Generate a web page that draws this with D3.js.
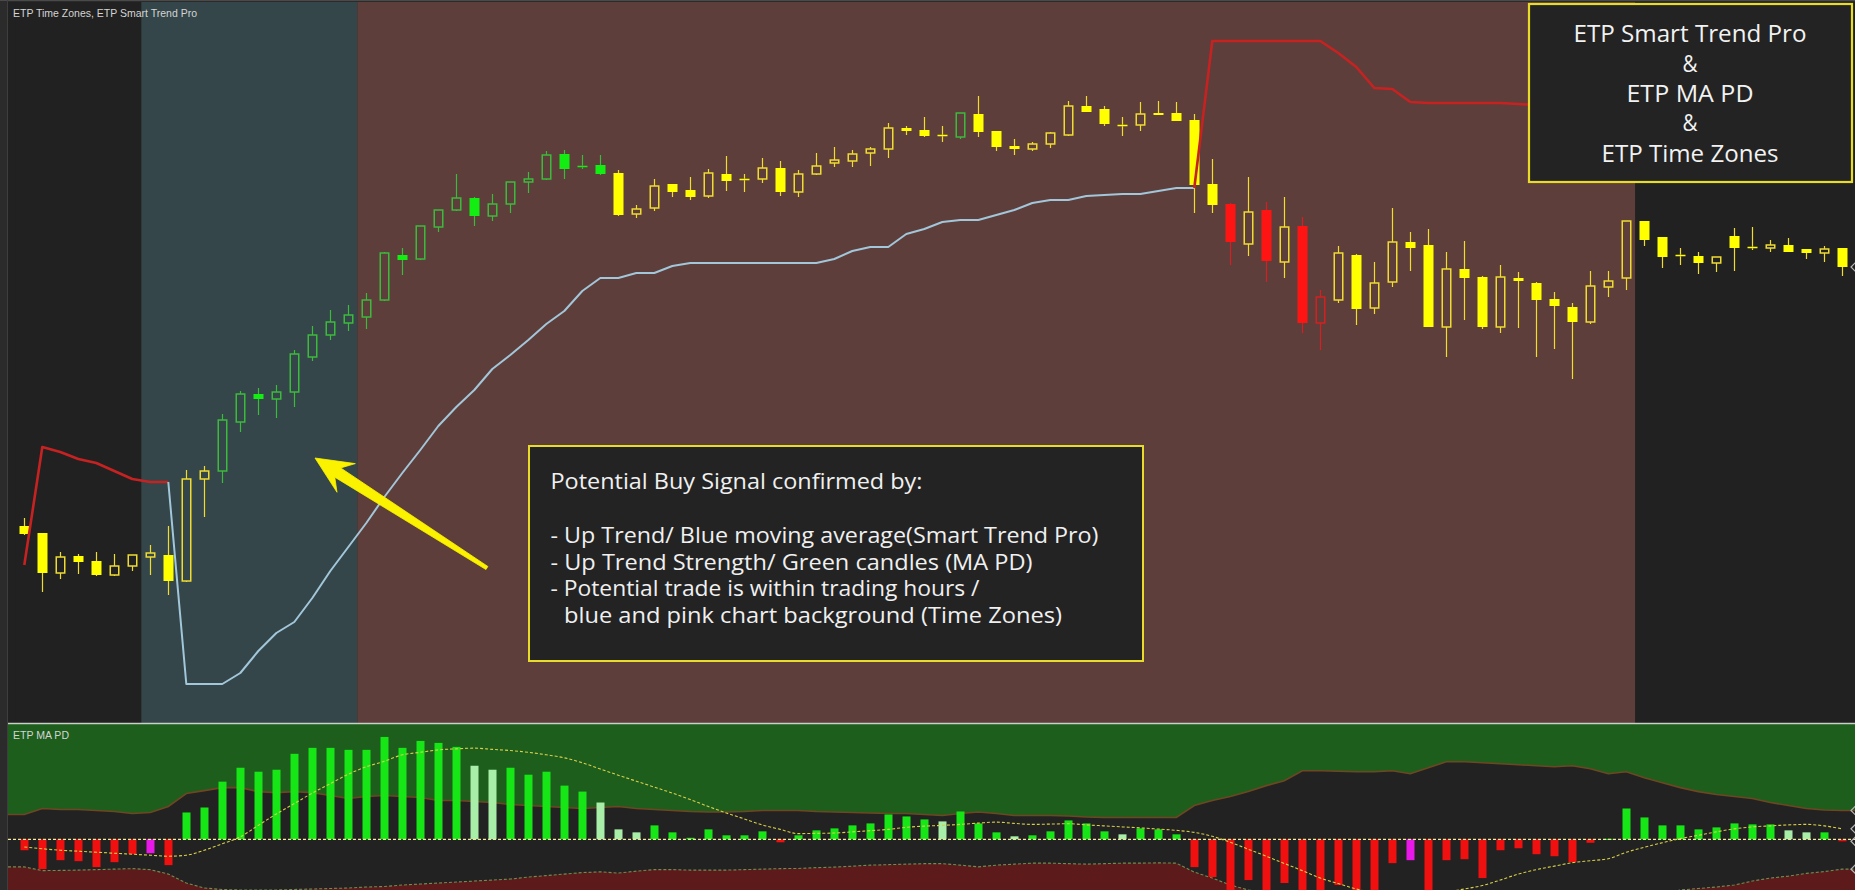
<!DOCTYPE html>
<html>
<head>
<meta charset="utf-8">
<script src="https://cdn.jsdelivr.net/npm/d3@7"></script>
<style>
html, body { margin: 0; padding: 0; background: #2b2b2b; overflow: hidden; }
svg { display: block; }
</style>
</head>
<body>
<script>
// ---- price bars (one per session bar) ----
const opens = [
  103.74, 103.67, 103.27, 103.44, 103.39, 103.25, 103.34, 103.43, 103.45, 103.19,
  104.21, 104.29, 104.78, 105.06, 105.01, 105.08, 105.43, 105.65, 105.77, 105.83,
  106.00, 106.45, 106.41, 106.73, 106.90, 107.02, 106.84, 106.96, 107.18, 107.21,
  107.46, 107.34, 107.35, 107.27, 106.86, 106.92, 107.16, 107.10, 107.04, 107.26,
  107.21, 107.21, 107.32, 107.08, 107.26, 107.37, 107.39, 107.47, 107.51, 107.72,
  107.70, 107.65, 107.63, 107.86, 107.69, 107.54, 107.51, 107.56, 107.65, 107.94,
  107.91, 107.75, 107.75, 107.87, 107.87, 107.80, 107.16, 106.96, 106.56, 106.90,
  106.38, 106.74, 105.77, 106.00, 106.45, 105.92, 106.18, 106.58, 106.55, 105.73,
  106.31, 106.23, 105.73, 106.22, 106.17, 106.01, 105.93, 105.78, 106.13, 106.22,
  106.79, 106.63, 106.45, 106.44, 106.37, 106.64, 106.53, 106.52, 106.55, 106.51,
  106.47, 106.52
];
const highs = [
  103.82, 103.67, 103.48, 103.46, 103.48, 103.46, 103.45, 103.55, 103.74, 104.30,
  104.34, 104.86, 105.09, 105.12, 105.15, 105.50, 105.74, 105.90, 105.95, 106.07,
  106.48, 106.52, 106.74, 106.90, 107.26, 107.03, 107.06, 107.18, 107.28, 107.49,
  107.50, 107.45, 107.45, 107.30, 106.95, 107.21, 107.16, 107.23, 107.31, 107.44,
  107.26, 107.42, 107.39, 107.30, 107.47, 107.53, 107.50, 107.53, 107.77, 107.74,
  107.83, 107.74, 107.87, 108.04, 107.69, 107.61, 107.58, 107.68, 107.99, 108.04,
  107.94, 107.83, 107.98, 107.99, 107.98, 107.86, 107.41, 106.97, 107.23, 106.98,
  107.03, 106.83, 106.10, 106.54, 106.46, 106.38, 106.92, 106.68, 106.71, 106.48,
  106.59, 106.24, 106.35, 106.28, 106.18, 106.08, 105.97, 106.29, 106.29, 106.79,
  106.79, 106.63, 106.52, 106.48, 106.43, 106.72, 106.73, 106.60, 106.62, 106.51,
  106.54, 106.52
];
const lows = [
  103.65, 103.08, 103.21, 103.26, 103.24, 103.24, 103.29, 103.25, 103.05, 103.18,
  103.83, 104.17, 104.68, 104.85, 104.82, 104.93, 105.39, 105.60, 105.69, 105.71,
  105.99, 106.25, 106.40, 106.68, 106.89, 106.74, 106.79, 106.87, 107.07, 107.20,
  107.21, 107.31, 107.25, 106.84, 106.82, 106.89, 107.03, 107.00, 107.02, 107.09,
  107.08, 107.17, 107.04, 107.03, 107.25, 107.33, 107.33, 107.34, 107.42, 107.65,
  107.63, 107.58, 107.61, 107.63, 107.49, 107.45, 107.49, 107.52, 107.64, 107.88,
  107.74, 107.64, 107.69, 107.85, 107.79, 106.87, 106.87, 106.35, 106.44, 106.18,
  106.22, 105.67, 105.50, 105.97, 105.75, 105.86, 106.13, 106.29, 105.73, 105.43,
  105.80, 105.71, 105.67, 105.72, 105.43, 105.51, 105.21, 105.76, 106.03, 106.10,
  106.54, 106.32, 106.35, 106.26, 106.28, 106.29, 106.50, 106.48, 106.48, 106.41,
  106.38, 106.24
];
const closes = [
  103.66, 103.27, 103.43, 103.38, 103.25, 103.34, 103.45, 103.47, 103.19, 104.21,
  104.29, 104.80, 105.06, 105.01, 105.08, 105.46, 105.65, 105.78, 105.85, 106.00,
  106.47, 106.40, 106.74, 106.90, 107.02, 106.84, 106.96, 107.18, 107.21, 107.45,
  107.31, 107.33, 107.26, 106.85, 106.91, 107.14, 107.08, 107.03, 107.27, 107.19,
  107.20, 107.32, 107.08, 107.26, 107.34, 107.40, 107.46, 107.51, 107.72, 107.69,
  107.64, 107.64, 107.87, 107.68, 107.53, 107.51, 107.56, 107.67, 107.94, 107.88,
  107.76, 107.74, 107.86, 107.85, 107.79, 107.15, 106.95, 106.58, 106.88, 106.39,
  106.73, 105.77, 106.03, 106.47, 105.91, 106.17, 106.58, 106.52, 105.73, 106.31,
  106.22, 105.73, 106.23, 106.19, 106.00, 105.94, 105.78, 106.14, 106.19, 106.79,
  106.60, 106.43, 106.44, 106.37, 106.43, 106.52, 106.52, 106.55, 106.48, 106.47,
  106.51, 106.33
];
// MA PD bar state: y = neutral, g = up strength, r = down strength
const candleState = (
  "yyyyyyyyyy" + "yggggggggg" + "gggggggggg" + "gggyyyyyyy" + "yyyyyyyyyy" +
  "yygyyyyyyy" + "yyyyyyyryr" + "yrryyyyyyy" + "yyyyyyyyyy" + "yyyyyyyyyy" + "yy"
).split("");

// ---- Smart Trend Pro line ----
const trendLine = [
  103.35, 104.53, 104.48, 104.41, 104.37, 104.29, 104.21, 104.18, 104.18, 102.16,
  102.16, 102.16, 102.27, 102.49, 102.67, 102.78, 103.02, 103.29, 103.53, 103.77,
  104.03, 104.27, 104.50, 104.74, 104.93, 105.10, 105.31, 105.45, 105.60, 105.76,
  105.89, 106.09, 106.22, 106.22, 106.27, 106.27, 106.34, 106.37, 106.37, 106.37,
  106.37, 106.37, 106.37, 106.37, 106.37, 106.41, 106.49, 106.53, 106.53, 106.66,
  106.71, 106.78, 106.80, 106.80, 106.85, 106.90, 106.97, 107.00, 107.00, 107.04,
  107.05, 107.06, 107.06, 107.09, 107.12, 107.12, 108.59, 108.59, 108.59, 108.59,
  108.59, 108.59, 108.59, 108.47, 108.33, 108.12, 108.11, 107.98, 107.97, 107.97,
  107.97, 107.97, 107.97, 107.96, 107.95, 107.95, 107.95, 107.95, 107.95, 107.95,
  107.95, 107.95, 107.95, 107.95, 107.95, 107.95, 107.95, 107.95, 107.95, 107.95,
  107.95, 107.95
];
// u = up trend (blue), d = down trend (red)
const trendDir = (
  "dddddddddu" + "uuuuuuuuuu" + "uuuuuuuuuu" + "uuuuuuuuuu" + "uuuuuuuuuu" +
  "uuuuuuuuuu" + "uuuuuudddd" + "dddddddddd" + "dddddddddd" + "dddddddddd" + "dd"
).split("");

// ---- Time zones (bar index ranges) ----
const zoneFirst = [0, 7, 19, 90];
const zoneLast  = [6, 18, 89, 101];
const zoneName  = ["closed", "session1", "session2", "closed"];

// ---- ETP MA PD oscillator ----
const maPd = [
  -11, -30, -21, -22, -28, -23, -15, -14, -26, 27,
  32, 58, 72, 68, 70, 86, 92, 92, 90, 90,
  103, 92, 99, 97, 93, 74, 70, 72, 65, 68,
  54, 48, 37, 10, 7, 14, 7, 1.5, 10, 4,
  4, 8, -3, 4, 9, 11, 14, 16, 25, 23,
  20, 18, 28, 16, 7, 3, 4, 8, 19, 16,
  8, 5, 11, 10, 5, -28, -38, -58, -41, -58,
  -44, -58, -58, -46, -58, -58, -24, -21, -58, -21,
  -20, -39, -11, -9, -15, -17, -23, -3.5, 0.5, 31,
  22, 14, 14, 10, 12, 16, 15, 15, 9, 7,
  7, -2
];
// r = down, m = down extreme, g = up, l = up weakening
const maPdState = (
  "rrrrrrrmrg" + "gggggggggg" + "gggggllggg" + "gglllggggg" + "ggrggggggg" +
  "glggglgggg" + "glgggrrrrr" + "rrrrrrrmrr" + "rrrrrrrrgg" + "ggggggggll" + "gr"
).split("");
const maPdUpper = [
  25, 31, 30, 30, 29, 28, 26, 27, 33, 46,
  49, 52, 52, 48, 47, 48, 47, 44, 41, 43,
  44, 43, 42, 39, 39, 38, 37, 35, 34, 33,
  32, 31, 32, 33, 31, 30, 29, 28, 27.5, 27.5,
  28, 29, 29, 29, 28, 27.5, 27, 26.5, 26, 26,
  25, 24, 26, 27.5, 26, 24, 24, 24, 23.5, 22.5,
  22, 22, 22, 22, 22, 34, 39, 43, 48, 54,
  59, 69, 69, 68.5, 68, 68, 69, 66, 72, 78,
  78, 77, 76, 75, 74, 73, 74, 71, 66, 68,
  62, 57, 52, 48, 45, 43, 41, 37, 34, 31,
  29.5, 29
];
const maPdLower = [
  -27.7, -31.5, -31.3, -31, -30.5, -30, -29.5, -30.5, -35, -44,
  -49, -50.5, -51, -51, -51, -50.5, -50, -49.5, -49, -48,
  -47.5, -46, -45, -44, -43, -42, -41, -40, -38, -36.5,
  -35, -33.5, -32.7, -34, -32, -30.5, -30.5, -31, -31, -31,
  -30.5, -30, -29.5, -29.3, -28.5, -28, -27, -26, -25.5, -25,
  -24.5, -24.5, -26, -27.7, -26, -25, -24, -24, -24.5, -25,
  -24.5, -24, -24, -23.7, -24, -33, -39, -46, -51, -53,
  -55, -57, -58, -58, -58, -58, -58, -58, -58, -58,
  -58, -58, -58, -58, -58, -58, -58, -58, -58, -57,
  -56, -55, -51, -49.5, -48, -46, -42, -39, -37, -34.3,
  -32.5, -30
];
const maPdSignal = [
  -7.7, -9.5, -11, -12, -13, -14, -15, -16, -17, -16,
  -11, -4.5, 2.5, 14, 25.5, 36, 46.5, 56, 65.5, 73,
  78.5, 85, 87.5, 90, 91, 91.7, 90.5, 89.3, 87.5, 85,
  82, 77, 70.7, 64.5, 58.5, 52.5, 46.5, 40, 33, 26.5,
  20.5, 14.5, 10, 5.7, 6, 6.3, 7.5, 8.7, 10, 12,
  13.3, 14, 15, 16.3, 17.3, 16, 15, 15.3, 15.7, 14.5,
  13.5, 12.5, 11.5, 10.3, 9, 7, 3, -3, -10, -17,
  -24.3, -31.5, -39, -44.5, -50, -54, -56, -56, -55, -53,
  -50, -46.5, -41, -35, -30.5, -27, -23.5, -21.5, -19.5, -13,
  -8, -3.5, 0.7, 4, 7.5, 10.5, 12.5, 13.5, 14.5, 15,
  13.5, 10.5
];

// ---- annotations ----
const arrowTip  = { bar: 16.15, price: 104.42 };
const arrowTail = { bar: 25.7, price: 103.32 };
const titleLines = ["ETP Smart Trend Pro", "&", "ETP MA PD", "&", "ETP Time Zones"];
const noteLines = [
  "Potential Buy Signal confirmed by:",
  "",
  "- Up Trend/ Blue moving average(Smart Trend Pro)",
  "- Up Trend Strength/ Green candles (MA PD)",
  "- Potential trade is within trading hours /",
  "  blue and pink chart background (Time Zones)"
];

// ================= drawing =================
const W = 1855, H = 890;
const plotL = 8, plotR = W, mainTop = 2, mainBot = 723, oscTop = 724, oscBot = H;

const svg = d3.select("body").append("svg")
  .attr("width", W).attr("height", H)
  .style("font-family", "'Liberation Sans', Arial, sans-serif");

const x = d3.scaleLinear().domain([-0.906, 101.706]).range([plotL, plotR]);
const y = d3.scaleLinear().domain([100, 109]).range([900, 0]);
const yo = d3.scaleLinear().domain([-51, 116]).range([oscBot, oscTop]);

const defs = svg.append("defs");
defs.append("clipPath").attr("id", "clipMain").append("rect")
  .attr("x", plotL).attr("y", mainTop).attr("width", plotR - plotL).attr("height", mainBot - mainTop);
defs.append("clipPath").attr("id", "clipOsc").append("rect")
  .attr("x", plotL).attr("y", oscTop).attr("width", plotR - plotL).attr("height", oscBot - oscTop);

// frame
svg.append("rect").attr("width", W).attr("height", H).attr("fill", "#2b2b2b");
svg.append("line").attr("x1", 0).attr("x2", W).attr("y1", 0.5).attr("y2", 0.5).attr("stroke", "#4a4a4a");
svg.append("line").attr("x1", 7.5).attr("x2", 7.5).attr("y1", 0).attr("y2", H).attr("stroke", "#3e3e3e");

// ---------- main panel ----------
const main = svg.append("g").attr("clip-path", "url(#clipMain)");
main.append("rect").attr("x", plotL).attr("y", mainTop)
  .attr("width", plotR - plotL).attr("height", mainBot - mainTop).attr("fill", "#212121");

const zoneFill = { closed: "#212121", session1: "#344649", session2: "#5e3e3a" };
main.selectAll("rect.zone")
  .data(zoneName.map((n, k) => ({ n, a: zoneFirst[k], b: zoneLast[k] })))
  .join("rect").attr("class", "zone")
  .attr("x", d => Math.max(plotL, x(d.a - 0.5)))
  .attr("width", d => Math.min(plotR, x(d.b + 0.5)) - Math.max(plotL, x(d.a - 0.5)))
  .attr("y", mainTop).attr("height", mainBot - mainTop)
  .attr("fill", d => zoneFill[d.n]);

// candles
const fillCol = { y: "#ffff00", g: "#12ee12", r: "#ff1414" };
const lineCol = { y: "#f0dc30", g: "#3cba3c", r: "#d42020" };
const candles = opens.map((o, i) => ({ i, o, h: highs[i], l: lows[i], c: closes[i], s: candleState[i] }));

const cg = main.selectAll("g.candle").data(candles).join("g").attr("class", "candle");
cg.each(function (d) {
  const g = d3.select(this);
  const cx = Math.round(x(d.i)) + 0.5;
  let top = y(Math.max(d.o, d.c)), bot = y(Math.min(d.o, d.c));
  if (bot - top < 1.5) { const m = (top + bot) / 2; top = m - 0.75; bot = m + 0.75; }
  const filled = d.c < d.o;
  const col = filled ? fillCol[d.s] : lineCol[d.s];
  g.append("line").attr("x1", cx).attr("x2", cx).attr("y1", y(d.h)).attr("y2", top)
    .attr("stroke", lineCol[d.s]).attr("stroke-width", 1.2);
  g.append("line").attr("x1", cx).attr("x2", cx).attr("y1", bot).attr("y2", y(d.l))
    .attr("stroke", lineCol[d.s]).attr("stroke-width", 1.2);
  if (filled) {
    g.append("rect").attr("x", cx - 5).attr("y", top).attr("width", 10).attr("height", bot - top)
      .attr("fill", col);
  } else {
    g.append("rect").attr("x", cx - 4.25).attr("y", top).attr("width", 8.5).attr("height", Math.max(bot - top, 1))
      .attr("fill", "none").attr("stroke", col).attr("stroke-width", 1.5);
  }
});

// Smart Trend Pro line, split into runs by direction
const runs = [];
for (let i = 1; i < trendLine.length; i++) {
  const last = runs[runs.length - 1];
  if (last && last.dir === trendDir[i]) last.pts.push(i);
  else runs.push({ dir: trendDir[i], pts: [i - 1, i] });
}
const trendPath = d3.line().x(i => x(i)).y(i => y(trendLine[i]));
main.selectAll("path.trend").data(runs).join("path").attr("class", "trend")
  .attr("d", d => trendPath(d.pts))
  .attr("fill", "none")
  .attr("stroke", d => d.dir === "u" ? "#a2c6da" : "#c62222")
  .attr("stroke-width", d => d.dir === "u" ? 2 : 2.6)
  .attr("stroke-linejoin", "round");

// last-value markers on the right edge
const marker = (g, yy) => g.append("polyline")
  .attr("points", `${W + 1},${yy - 5} ${W - 4},${yy} ${W + 1},${yy + 5}`)
  .attr("fill", "none").attr("stroke", "#b8b8b8").attr("stroke-width", 1.2);
marker(svg, y(closes[closes.length - 1]));

// arrow
{
  const t0 = [x(arrowTip.bar), y(arrowTip.price)];
  const t1 = [x(arrowTail.bar), y(arrowTail.price)];
  const dx = t1[0] - t0[0], dy = t1[1] - t0[1], len = Math.hypot(dx, dy);
  const ux = dx / len, uy = dy / len, nx = -uy, ny = ux;
  const P = (a, b) => [t0[0] + ux * a + nx * b, t0[1] + uy * a + ny * b];
  const pts = [P(0, 0), P(37, 17), P(27, 5.5), P(len, 1.8), P(len, -1.8), P(27, -5.5), P(37, -17)];
  main.append("polygon").attr("points", pts.map(p => p.join(",")).join(" "))
    .attr("fill", "#fbf200").attr("stroke", "#fbf200").attr("stroke-width", 0.8)
    .attr("stroke-linejoin", "round");
}

const boxFont = "'Open Sans', Lato, 'Noto Sans', sans-serif";

// note box
{
  const g = svg.append("g");
  g.append("rect").attr("x", 529).attr("y", 446).attr("width", 614).attr("height", 215)
    .attr("fill", "#232323").attr("stroke", "#e8dc28").attr("stroke-width", 2);
  const base = [489, 516, 543, 569.5, 596, 622.5];
  const widths = [372, 0, 548, 482, 429, 498];
  noteLines.forEach((t, k) => {
    if (!t) return;
    const indent = t.startsWith("  ");
    g.append("text").attr("x", indent ? 564 : 550.5).attr("y", base[k])
      .attr("textLength", widths[k]).attr("lengthAdjust", "spacingAndGlyphs")
      .style("font-family", boxFont).style("font-size", "22.5px").style("font-weight", 400)
      .attr("fill", "#f0f0f0").text(t.trim());
  });
}

// title box
{
  const g = svg.append("g");
  g.append("rect").attr("x", 1529).attr("y", 4).attr("width", 323).attr("height", 178)
    .attr("fill", "#232323").attr("stroke", "#e8dc28").attr("stroke-width", 2.2);
  const base = [41.7, 71.7, 101.7, 130.7, 161.7];
  const widths = [233, 15, 127, 15, 177];
  titleLines.forEach((t, k) => {
    g.append("text").attr("x", 1690).attr("y", base[k]).attr("text-anchor", "middle")
      .attr("textLength", widths[k]).attr("lengthAdjust", "spacingAndGlyphs")
      .style("font-family", boxFont).style("font-size", "24px").style("font-weight", 400)
      .attr("fill", "#f2f2f2").text(t);
  });
}

svg.append("text").attr("x", 13).attr("y", 17.3)
  .attr("textLength", 184).attr("lengthAdjust", "spacingAndGlyphs")
  .style("font-size", "11px").attr("fill", "#d4d4d4")
  .text("ETP Time Zones, ETP Smart Trend Pro");

// ---------- MA PD panel ----------
const osc = svg.append("g").attr("clip-path", "url(#clipOsc)");
osc.append("rect").attr("x", plotL).attr("y", oscTop)
  .attr("width", plotR - plotL).attr("height", oscBot - oscTop).attr("fill", "#222222");

const n = maPd.length;
const ext = arr => [{ i: x.domain()[0], v: arr[0] }]
  .concat(arr.map((v, i) => ({ i, v })))
  .concat([{ i: x.domain()[1], v: arr[n - 1] }]);

osc.append("path")
  .attr("d", d3.area().x(d => x(d.i)).y0(oscTop).y1(d => yo(d.v))(ext(maPdUpper)))
  .attr("fill", "#1d5e1d");
osc.append("path")
  .attr("d", d3.area().x(d => x(d.i)).y0(oscBot).y1(d => yo(d.v))(ext(maPdLower)))
  .attr("fill", "#5c1a1a");
osc.append("path")
  .attr("d", d3.line().x(d => x(d.i)).y(d => yo(d.v))(ext(maPdUpper)))
  .attr("fill", "none").attr("stroke", "#6e4622").attr("stroke-width", 1.6);
osc.append("path")
  .attr("d", d3.line().x(d => x(d.i)).y(d => yo(d.v))(ext(maPdLower)))
  .attr("fill", "none").attr("stroke", "#6f8d52").attr("stroke-width", 1.1)
  .attr("stroke-dasharray", "3,2");

const barCol = { r: "#f01010", m: "#e818e8", g: "#16e616", l: "#a8eea8" };
osc.selectAll("rect.bar").data(maPd.map((v, i) => ({ i, v, s: maPdState[i] })))
  .join("rect").attr("class", "bar")
  .attr("x", d => Math.round(x(d.i)) - 3.5)
  .attr("width", 8)
  .attr("y", d => yo(Math.max(d.v, 0)))
  .attr("height", d => Math.max(1, Math.abs(yo(d.v) - yo(0))))
  .attr("fill", d => barCol[d.s]);

osc.append("line").attr("x1", plotL).attr("x2", plotR).attr("y1", yo(0)).attr("y2", yo(0))
  .attr("stroke", "#f4eaa0").attr("stroke-width", 1.2).attr("stroke-dasharray", "3,2");

osc.append("path")
  .attr("d", d3.line().curve(d3.curveMonotoneX).x((v, i) => x(i)).y(v => yo(v))(maPdSignal))
  .attr("fill", "none").attr("stroke", "#d8cf4a").attr("stroke-width", 1.1)
  .attr("stroke-dasharray", "3,2");

[maPdUpper, maPdSignal, maPd, maPdLower].forEach(a => marker(svg, yo(a[n - 1])));

svg.append("line").attr("x1", plotL).attr("x2", plotR).attr("y1", 723.5).attr("y2", 723.5)
  .attr("stroke", "#c8d0c8").attr("stroke-width", 1.5);

svg.append("text").attr("x", 13).attr("y", 739)
  .attr("textLength", 56).attr("lengthAdjust", "spacingAndGlyphs")
  .style("font-size", "10.5px").attr("fill", "#d4d4d4")
  .text("ETP MA PD");
</script>
</body>
</html>
